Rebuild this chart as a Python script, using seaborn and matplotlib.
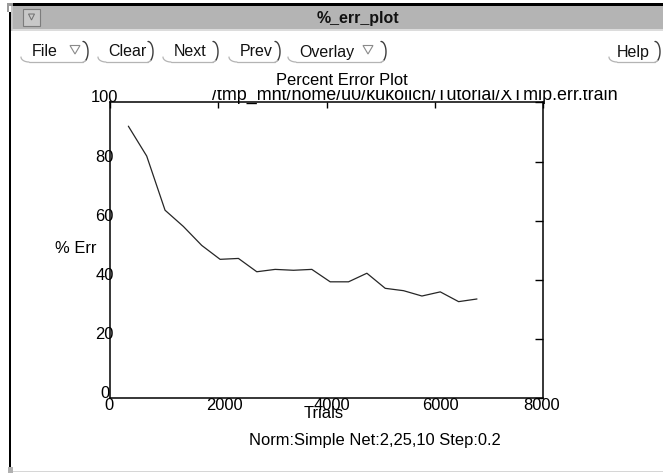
import numpy as np
import matplotlib
matplotlib.use("Agg")
import matplotlib.pyplot as plt
from matplotlib.patches import Rectangle, Polygon
from matplotlib.transforms import Bbox, TransformedBbox, ScaledTranslation
import seaborn as sns

# Percent error during training, sampled every 339 trials
trials = [339, 678, 1017, 1356, 1695, 2034, 2373, 2712, 3051, 3390,
          3729, 4068, 4407, 4746, 5085, 5424, 5763, 6102, 6441, 6780]
pct_err = [92.0, 81.9, 63.6, 58.1, 51.7, 47.0, 47.3, 42.8, 43.6, 43.3,
           43.6, 39.4, 39.4, 42.3, 37.2, 36.4, 34.6, 36.0, 32.7, 33.6]

x_ticks = [0, 2000, 4000, 6000, 8000]
x_tick_labels = ["0", "2000", "4000", "6000", "8000"]
y_ticks = [0, 20, 40, 60, 80, 100]
y_tick_labels = ["0", "20", "40", "60", "80", "100"]

window_title = "%_err_plot"
menu_labels = ["File", "Clear", "Next", "Prev", "Overlay", "Help"]
plot_title = "Percent Error Plot"
file_path = "/tmp_mnt/home/u0/kukolich/Tutorial/XTmip.err.train"
run_info = "Norm:Simple Net:2,25,10 Step:0.2"

sns.set_theme(style="white")
plt.rcParams["font.family"] = ["Liberation Sans", "DejaVu Sans"]

W, H = 663, 473
fig = plt.figure(figsize=(W / 100, H / 100), dpi=100)
fig.patch.set_facecolor("white")

# ---- window chrome, drawn in pixel coordinates (y down) ----
chrome = fig.add_axes([0, 0, 1, 1], zorder=0)
chrome.set_xlim(0, W)
chrome.set_ylim(H, 0)
chrome.axis("off")

def rect(x, y, w, h, **kw):
    chrome.add_patch(Rectangle((x, y), w, h, linewidth=0, **kw))

rect(12, 3.5, W - 12, 2.5, facecolor="black")           # top frame edge
rect(7, 3.5, 6, 2.5, facecolor="#9a9a9a")               # corner handle
rect(7, 3.5, 2, 9, facecolor="#9a9a9a")
rect(13, 6, W - 13, 23, facecolor="#b4b4b4")            # title bar
rect(11, 6, 2, 25, facecolor="#c8c8c8")
chrome.plot([13, W], [29.8, 29.8], color="#dcdcdc", lw=1.4)
rect(8.5, 12.5, 2.6, 456, facecolor="black")            # left frame edge
rect(8, 467, 5, 6, facecolor="#b0b0b0")                 # bottom corner
rect(13, 470.5, W - 13, 1.6, facecolor="#d6d6d6")       # bottom edge

# window menu button in the title bar
chrome.add_patch(Rectangle((23, 9), 17, 17, facecolor="#c8c8c8",
                           edgecolor="#7c7c7c", linewidth=0.8))
chrome.add_patch(Polygon([(28.5, 14), (34.5, 14), (31.5, 20)], closed=True,
                         fill=False, edgecolor="#6e6e6e", linewidth=0.7))
chrome.text(357.5, 23, window_title, ha="center", va="baseline",
            fontsize=11.5, fontweight="bold", color="#111111")

# menu buttons: (left edge, right edge, text x, arrow span or None)
button_layout = [
    (21, 88, 32, (70, 80)),
    (98, 153, 108, None),
    (163, 218, 174, None),
    (229, 280, 240, None),
    (288, 386, 299, (363, 373)),
    (609, 660, 617, None),
]
yt, yb = 41.5, 62.0
for label, (x0, x1, tx, arrow) in zip(menu_labels, button_layout):
    # bottom-left rounded corner and bottom edge
    t = np.linspace(np.pi / 2, np.pi, 20)
    chrome.plot(x0 + 8 + 8 * np.cos(t), yb - 5 + 5 * np.sin(t),
                color="#b4b4b4", lw=0.9)
    chrome.plot([x0 + 8, x1 - 5], [yb, yb], color="#b4b4b4", lw=0.9)
    # right side curve
    cy, ry = (yt + yb) / 2, (yb - yt) / 2
    t = np.linspace(-np.pi / 2, np.pi / 3, 30)
    chrome.plot(x1 - 5 + 5 * np.cos(t), cy + ry * np.sin(t),
                color="#3c3c3c", lw=1.0)
    t = np.linspace(np.pi / 3, np.pi / 2, 10)
    chrome.plot(x1 - 5 + 5 * np.cos(t), cy + ry * np.sin(t),
                color="#b4b4b4", lw=0.9)
    chrome.text(tx, 56.5, label, ha="left", va="baseline",
                fontsize=11.5, color="#111111")
    if arrow is not None:
        a0, a1 = arrow
        chrome.add_patch(Polygon([(a0, 45.5), (a1, 45.5), ((a0 + a1) / 2, 54)],
                                 closed=True, fill=False,
                                 edgecolor="#8a8a8a", linewidth=0.8))

# ---- plot area ----
ax_left, ax_right, ax_top, ax_bottom = 110, 543, 102.5, 398.4
ax = fig.add_axes([ax_left / W, (H - ax_bottom) / H,
                   (ax_right - ax_left) / W, (ax_bottom - ax_top) / H],
                  zorder=1)
ax.set_facecolor("white")

sns.lineplot(x=trials, y=pct_err, ax=ax, color="#262626", linewidth=0.9)

ax.set_xlim(0, 8000)
ax.set_ylim(0, 100)
for side in ["left", "right", "top", "bottom"]:
    ax.spines[side].set_visible(True)
    ax.spines[side].set_color("black")
    ax.spines[side].set_linewidth(1.1)

ax.tick_params(direction="in", top=True, right=True, width=1.0,
               color="black", labelcolor="black", labelsize=11.9)
ax.tick_params(axis="x", length=4.5, pad=8.4)
ax.tick_params(axis="y", length=5.8, pad=4.0)
ax.set_xticks(x_ticks)
ax.set_xticklabels(x_tick_labels)
ax.set_yticks(y_ticks)
ax.set_yticklabels(y_tick_labels)

# small per-label nudges in pixels for the x tick labels
x_nudge = [-1, 6, 5.5, 5.5, -1.5]
for lbl, dx in zip(ax.get_xticklabels(), x_nudge):
    lbl.set_va("baseline")
    lbl.set_transform(lbl.get_transform() +
                      ScaledTranslation(dx / 100, 0, fig.dpi_scale_trans))
for lbl in ax.get_yticklabels():
    lbl.set_ha("center")
    lbl.set_va("baseline")

ax.set_xlabel("Trials", fontsize=11.9, va="baseline", color="black")
ax.xaxis.set_label_coords(0.494, (ax_bottom - 418) / (ax_bottom - ax_top))
ax.set_ylabel("% Err", fontsize=11.9, rotation=0, ha="right",
              va="baseline", color="black")
ax.yaxis.set_label_coords((96.7 - ax_left) / (ax_right - ax_left),
                          (ax_bottom - 253) / (ax_bottom - ax_top))

ax.set_title(plot_title, x=(342 - ax_left) / (ax_right - ax_left),
             y=(ax_bottom - 85) / (ax_bottom - ax_top), va="baseline",
             pad=0, fontsize=11.9, color="black")

# file path line, its upper part hidden under the title line
path_text = fig.text(415 / W, (H - 99.5) / H, file_path, ha="center",
                     va="baseline", fontsize=12.9, color="black")
path_text.set_clip_box(TransformedBbox(Bbox([[0, 0], [1, (H - 90.5) / H]]),
                                       fig.transFigure))
path_text.set_clip_on(True)

fig.text(375 / W, (H - 445) / H, run_info, ha="center", va="baseline",
         fontsize=11.9, color="black")

fig.savefig("out.png", dpi=100, facecolor="white")
